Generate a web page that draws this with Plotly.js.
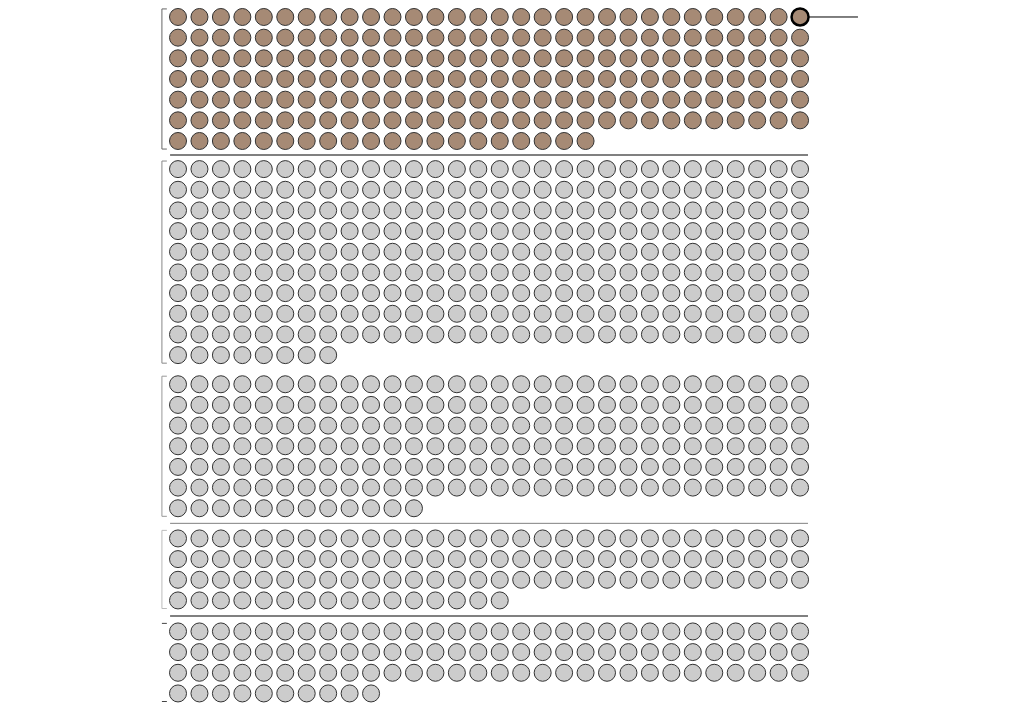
<!DOCTYPE html>
<html>
<head>
<meta charset="utf-8">
<script src="https://cdn.plot.ly/plotly-3.0.1.min.js"></script>
<style>html,body{margin:0;padding:0;background:#fff;}#chart{width:1030px;height:717px;}</style>
</head>
<body>
<div id="chart"></div>
<script>
// Data
const groupNames = ["Group 1", "Group 2", "Group 3", "Group 4", "Group 5"];
const groupCounts = [200, 278, 192, 106, 100];
const groupColors = ["#a68a75", "#cccccc", "#cccccc", "#cccccc", "#cccccc"];
const bracketColors = ["#666666", "#888888", "#999999", "#bbbbbb", "rgba(0,0,0,0)"];
const separatorAfter = [0, 2, 3];
const separatorWidths = [2, 1, 2];
const highlightGroup = 0;
const highlightIndex = 29;

// Layout constants
const COLS = 30;
const GAPS = [0.36, 0.41, 0.46, 0.50];

const traces = [];
const shapes = [];
let start = 0;
const starts = [], ends = [];
groupCounts.forEach((n, g) => {
  const xs = [], ys = [];
  for (let i = 0; i < n; i++) {
    xs.push(i % COLS);
    ys.push(start + Math.floor(i / COLS));
  }
  const rows = Math.ceil(n / COLS);
  starts.push(start);
  ends.push(start + rows - 1);
  traces.push({
    type: "scatter", mode: "markers", x: xs, y: ys, name: groupNames[g],
    hoverinfo: "skip",
    marker: {size: 17, color: groupColors[g], line: {color: "#333333", width: 1}}
  });
  // bracket
  const y0 = start - 0.39, y1 = start + rows - 1 + 0.39;
  const bx = -0.75, tx = -0.52;
  const tickColor = g === 4 ? "#444444" : bracketColors[g];
  shapes.push({type: "line", xref: "x", yref: "y", x0: bx, x1: bx, y0: y0, y1: y1, line: {color: bracketColors[g], width: 1}});
  shapes.push({type: "line", xref: "x", yref: "y", x0: bx, x1: tx, y0: y0, y1: y0, line: {color: tickColor, width: 1}});
  shapes.push({type: "line", xref: "x", yref: "y", x0: bx, x1: tx, y0: y1, y1: y1, line: {color: tickColor, width: 1}});
  start += rows + (GAPS[g] || 0);
});

separatorAfter.forEach((g, k) => {
  const y = (ends[g] + starts[g + 1]) / 2;
  shapes.push({type: "line", xref: "x", yref: "y", x0: -0.37, x1: COLS - 1 + 0.37, y0: y, y1: y,
    line: {color: "#808080", width: separatorWidths[k]}});
});

// highlighted dot
const hx = highlightIndex % COLS;
const hy = starts[highlightGroup] + Math.floor(highlightIndex / COLS);
traces.push({
  type: "scatter", mode: "markers", x: [hx], y: [hy], hoverinfo: "skip",
  marker: {size: 17, color: groupColors[highlightGroup], line: {color: "#000000", width: 2.5}}
});
shapes.push({type: "line", xref: "x", yref: "y", x0: hx + 0.42, x1: hx + 2.7, y0: hy, y1: hy,
  line: {color: "#000000", width: 1}});

const layout = {
  width: 1030, height: 717,
  margin: {l: 0, r: 0, t: 0, b: 0},
  paper_bgcolor: "#ffffff", plot_bgcolor: "#ffffff",
  showlegend: false,
  xaxis: {range: [-8.299, 39.72], visible: false, showgrid: false, zeroline: false, fixedrange: true},
  yaxis: {range: [33.87, -0.822], visible: false, showgrid: false, zeroline: false, fixedrange: true},
  shapes: shapes
};
Plotly.newPlot("chart", traces, layout, {displayModeBar: false, staticPlot: true});
</script>
</body>
</html>
